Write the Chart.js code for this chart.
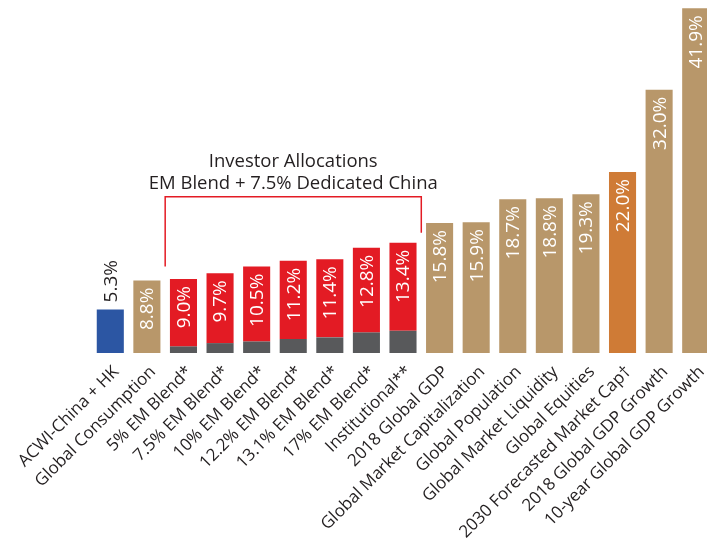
<!DOCTYPE html>
<html>
<head>
<meta charset="utf-8">
<script src="https://cdn.jsdelivr.net/npm/chart.js@4"></script>
<style>
  html, body { margin: 0; padding: 0; background: #fff; overflow: hidden; }
  #wrap { width: 714px; height: 546px; position: relative; }
</style>
</head>
<body>
<div id="wrap"><canvas id="chinaChart"></canvas></div>
<script>
// China weight across benchmarks, allocations and global measures
const categories = [
    'ACWI-China + HK', 'Global Consumption', '5% EM Blend*', '7.5% EM Blend*',
    '10% EM Blend*', '12.2% EM Blend*', '13.1% EM Blend*', '17% EM Blend*',
    'Institutional**', '2018 Global GDP', 'Global Market Capitalization',
    'Global Population', 'Global Market Liquidity', 'Global Equities',
    '2030 Forecasted Market Cap\u2020', '2018 Global GDP Growth', '10-year Global GDP Growth'
];
const chinaShare = [5.3, 8.8, 9.0, 9.7, 10.5, 11.2, 11.4, 12.8, 13.4, 15.8, 15.9, 18.7, 18.8, 19.3, 22.0, 32.0, 41.9];
// China part held through the EM blend (grey base of the allocation bars)
const blendPart = [null, null, 0.8, 1.2, 1.4, 1.7, 1.9, 2.5, 2.7, null, null, null, null, null, null, null, null];
const isAllocation = [false, false, true, true, true, true, true, true, true, false, false, false, false, false, false, false, false];

const BLUE = '#2c56a3', TAN = '#b8976a', RED = '#e31b24', GREY = '#58595b', ORANGE = '#cf7b36';
const TEXT = '#231f20';
const FONT = '"Open Sans", sans-serif';

const plainValues = chinaShare.map((v, i) => isAllocation[i] ? null : v);
const dedicatedValues = chinaShare.map((v, i) => isAllocation[i] ? +(v - blendPart[i]).toFixed(2) : null);
const plainColors = chinaShare.map((v, i) => i === 0 ? BLUE : (i === 14 ? ORANGE : TAN));

// value labels, bracket and heading
const annotate = {
    id: 'annotate',
    afterDatasetsDraw(chart) {
        const ctx = chart.ctx;
        const x = chart.scales.x, y = chart.scales.y;
        const plain = chart.getDatasetMeta(0).data;
        const top = chart.getDatasetMeta(2).data;
        ctx.save();
        ctx.font = '19px ' + FONT;
        chinaShare.forEach((v, i) => {
            const bar = isAllocation[i] ? top[i] : plain[i];
            const txt = v.toFixed(1) + '%';
            ctx.save();
            ctx.translate(bar.x + 1, bar.y);
            ctx.rotate(-Math.PI / 2);
            ctx.textBaseline = 'middle';
            if (i === 0) {
                ctx.fillStyle = TEXT;
                ctx.textAlign = 'left';
                ctx.fillText(txt, 7, 0);
            } else {
                ctx.fillStyle = '#fff';
                ctx.textAlign = 'right';
                ctx.fillText(txt, -7, 0);
            }
            ctx.restore();
        });

        // bracket over the allocation bars
        const step = x.getPixelForValue(1) - x.getPixelForValue(0);
        const left = x.getPixelForValue(2) - step / 2;
        const right = x.getPixelForValue(8) + step / 2;
        ctx.strokeStyle = RED;
        ctx.lineWidth = 1.5;
        ctx.beginPath();
        ctx.moveTo(left, y.getPixelForValue(10.5));
        ctx.lineTo(left, y.getPixelForValue(19.0));
        ctx.lineTo(right, y.getPixelForValue(19.0));
        ctx.lineTo(right, y.getPixelForValue(14.6));
        ctx.stroke();

        ctx.font = '18.5px ' + FONT;
        ctx.fillStyle = TEXT;
        ctx.textAlign = 'center';
        ctx.textBaseline = 'middle';
        const cx = (left + right) / 2;
        ctx.fillText('Investor Allocations', cx, y.getPixelForValue(23.2));
        ctx.fillText('EM Blend + 7.5% Dedicated China', cx, y.getPixelForValue(20.6));
        ctx.restore();
    }
};

const chart = new Chart(document.getElementById('chinaChart'), {
    type: 'bar',
    data: {
        labels: categories,
        datasets: [
            { data: plainValues, backgroundColor: plainColors },
            { data: blendPart, backgroundColor: GREY },
            { data: dedicatedValues, backgroundColor: RED }
        ]
    },
    options: {
        responsive: true,
        maintainAspectRatio: false,
        animation: false,
        layout: { padding: { left: 92, right: 0, top: 0, bottom: 0 } },
        datasets: { bar: { categoryPercentage: 1, barPercentage: 0.74 } },
        plugins: { legend: { display: false }, tooltip: { enabled: false } },
        scales: {
            x: {
                stacked: true,
                grid: { display: false, drawTicks: false },
                border: { display: false },
                ticks: {
                    autoSkip: false,
                    minRotation: 45,
                    maxRotation: 45,
                    padding: 9,
                    labelOffset: 6,
                    color: TEXT,
                    font: { family: FONT, size: 17 }
                },
                afterFit(s) {
                    s.height = 193;
                    s.paddingLeft = 0;
                    s.paddingRight = 0;
                }
            },
            y: {
                stacked: true,
                display: false,
                min: 0,
                max: 42.9
            }
        }
    },
    plugins: [annotate]
});
</script>
</body>
</html>
